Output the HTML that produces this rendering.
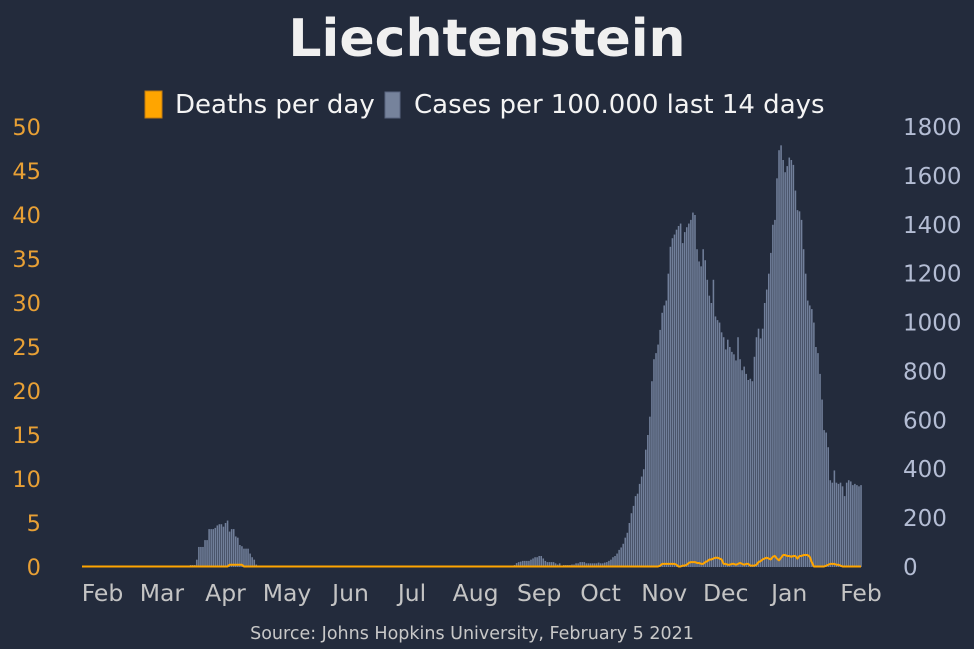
<!DOCTYPE html>
<html><head><meta charset="utf-8">
<style>
html,body{margin:0;padding:0;background:#232b3c;}
svg{display:block;font-family:"DejaVu Sans","Liberation Sans",sans-serif;}
</style></head>
<body>
<svg id="chart" width="974" height="649" viewBox="0 0 974 649" xmlns="http://www.w3.org/2000/svg">
<rect width="974" height="649" fill="#232b3c"/>
<text x="487" y="56" text-anchor="middle" font-size="52" font-weight="bold" fill="#f0f0f0">Liechtenstein</text>
<g>
<rect x="145" y="91" width="17" height="27" fill="#ffa500" stroke="#c07a10" stroke-width="1"/>
<text x="175" y="113" font-size="26" fill="#f4f4f4">Deaths per day</text>
<rect x="385" y="92" width="15" height="26" fill="#76839c" stroke="#5a6680" stroke-width="1"/>
<text x="414" y="113" font-size="26" fill="#f4f4f4">Cases per 100.000 last 14 days</text>
</g>
<g id="bars"></g>
<g id="axes"></g>
<text x="472" y="639" text-anchor="middle" font-size="17.5" fill="#c8c8c8">Source: Johns Hopkins University, February 5 2021</text>
</svg>
<script>
const casesValues = [
0,0,0,0,0,0,0,0,0,0,0,0,0,0,0,0,0,0,0,0,
0,0,0,0,0,0,0,0,0,0,0,0,0,0,0,0,0,0,0,0,
0,0,0,0,0,0,0,0,0,0,0,0,0,
8,8,8,30,82,82,82,110,110,155,155,155,160,170,175,175,165,180,190,145,155,155,125,120,90,85,75,75,75,55,40,30,10,5,3,5,5,3,3,2,3,3,3,3,3,3,3,3,
0,0,0,0,0,0,0,0,0,0,0,0,0,0,0,0,0,0,0,0,
0,0,0,0,0,0,0,0,0,0,0,0,0,0,0,0,0,0,0,0,
0,0,0,0,0,0,0,0,0,0,0,0,0,0,0,0,0,0,0,0,
0,0,0,0,0,0,0,
1,1,1,1,1,1,1,1,1,1,1,1,1,1,1,1,1,1,3,3,3,3,3,
2,2,3,4,4,2,2,2,2,2,2,2,2,2,2,2,2,2,2,3,
8,16,20,22,25,25,25,25,30,35,40,40,45,45,35,25,20,20,20,20,15,10,15,5,8,8,8,8,10,10,15,15,20,20,20,15,15,15,15,
15,15,18,15,15,18,20,25,30,40,45,55,70,80,95,120,140,180,220,250,
290,300,340,370,400,480,540,615,760,850,875,910,970,1040,1070,1090,1200,1310,1345,1360,
1380,1395,1405,1325,1370,1390,1405,1420,1450,1440,1300,1250,1230,1300,1255,1175,1110,1080,1175,1025,
1010,1000,960,940,890,930,900,880,870,845,940,850,805,820,790,765,770,760,860,940,
975,935,975,1080,1135,1200,1285,1400,1420,1590,1705,1725,1665,1615,1640,1675,1665,1645,1540,1460,
1455,1420,1300,1200,1090,1070,1055,1000,900,875,790,685,560,550,490,355,345,395,345,340,
345,330,290,345,355,350,335,340,335,330,335
];
const deathsValues = [
0,0,0,0,0,0,0,0,0,0,0,0,0,0,0,0,0,0,0,0,
0,0,0,0,0,0,0,0,0,0,0,0,0,0,0,0,0,0,0,0,
0,0,0,0,0,0,0,0,0,0,0,0,0,0,0,0,0,0,0,0,
0,0,0,0,0,0,0,0,0,0,0,0,
0.2,0.2,0.2,0.2,0.2,0.2,0.2,
0,0,0,0,0,0,0,0,0,0,0,0,0,0,0,0,0,0,0,0,
0,0,0,0,0,0,0,0,0,0,0,0,0,0,0,0,0,0,0,0,
0,0,0,0,0,0,0,0,0,0,0,0,0,0,0,0,0,0,0,0,
0,0,0,0,0,0,0,0,0,0,0,0,0,0,0,0,0,0,0,0,
0,0,0,0,0,0,0,0,0,0,0,0,0,0,0,0,0,0,0,0,
0,0,0,0,0,0,0,0,0,0,0,0,0,0,0,0,0,0,0,0,
0,0,0,0,0,0,0,0,0,0,0,0,0,0,0,0,0,0,0,0,
0,0,0,0,0,0,0,0,0,0,0,0,0,0,0,0,0,0,0,0,
0,0,0,0,0,0,0,0,0,0,0,0,0,0,0,0,0,0,0,0,
0,0,0,0,0,0,0,0,0,0,0,0,0,0,0,0,0,0,0,0,
0,
0,0,0.1,0.3,0.3,0.3,0.3,0.3,0.3,0.3,0.2,0,0,0.1,0.1,0.2,0.4,0.5,0.5,0.5,
0.4,0.4,0.3,0.3,0.5,0.6,0.8,0.8,0.9,1.0,1.0,0.9,0.8,0.3,0.3,0.2,0.2,0.3,0.3,0.2,
0.3,0.4,0.3,0.2,0.3,0.3,0.1,0.1,0.1,0.2,0.5,0.6,0.8,0.9,1.0,0.9,0.8,1.1,1.2,0.9,
0.7,1.0,1.3,1.3,1.2,1.2,1.1,1.2,1.2,0.9,1.2,1.2,1.3,1.3,1.3,1.1,0.5,0,0,0,
0,0,0,0.1,0.2,0.3,0.3,0.3,0.2,0.2,0.1,0,0,0,0,0,0,0,0,0,0
];
const leftTicks = [0,5,10,15,20,25,30,35,40,45,50];
const rightTicks = [0,200,400,600,800,1000,1200,1400,1600,1800];
const monthLabels = ["Feb","Mar","Apr","May","Jun","Jul","Aug","Sep","Oct","Nov","Dec","Jan","Feb"];
const monthDays = [10,39,70,100,131,161,192,223,253,284,314,345,380];

const NS="http://www.w3.org/2000/svg";
const x0=82, dayW=2.05, y0=567, yTop=127;
const xScale=d=>x0+d*dayW;
const yLeft=v=>y0-(v/50)*(y0-yTop);
const yRight=v=>y0-(v/1800)*(y0-yTop);
function mk(tag,attrs,parent){const e=document.createElementNS(NS,tag);for(const k in attrs)e.setAttribute(k,attrs[k]);parent.appendChild(e);return e;}
const bars=document.getElementById('bars');
const axes=document.getElementById('axes');
const svg=document.getElementById('chart');

casesValues.forEach((v,i)=>{
  if(v<=0) return;
  const y=yRight(v);
  const r=mk('rect',{x:(xScale(i)-0.75).toFixed(2),y:y.toFixed(2),width:1.55,height:(y0-y).toFixed(2),fill:'#717f9a'},bars);
  
  
});

let d='';
deathsValues.forEach((v,i)=>{d+=(i?'L':'M')+xScale(i).toFixed(2)+','+(yLeft(v)-0.5).toFixed(2);});
const line=mk('path',{d:d,fill:'none',stroke:'#ffa500','stroke-width':2,'stroke-linejoin':'round'},svg);



leftTicks.forEach(t=>{
  const e=mk('text',{x:41,y:(yLeft(t)+8).toFixed(1),'text-anchor':'end','font-size':22.5,fill:'#e8a035'},axes);
  e.textContent=t;
  
  
});
rightTicks.forEach(t=>{
  const e=mk('text',{x:903,y:(yRight(t)+8).toFixed(1),'text-anchor':'start','font-size':23,fill:'#b4bdd4'},axes);
  e.textContent=t;
  
  
});
monthLabels.forEach((m,i)=>{
  const e=mk('text',{x:xScale(monthDays[i]).toFixed(1),y:601,'text-anchor':'middle','font-size':23.5,fill:'#c4c4c4'},axes);
  e.textContent=m;
  
  
});
</script>
</body></html>
